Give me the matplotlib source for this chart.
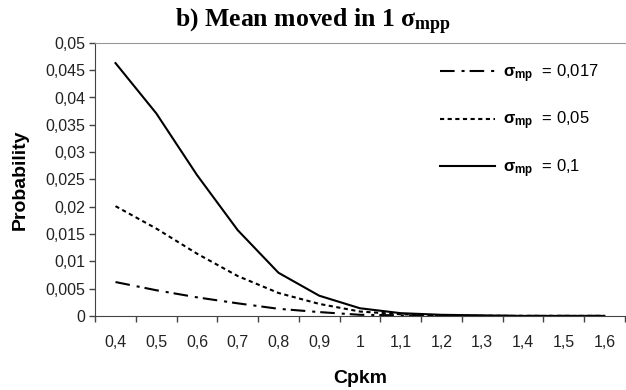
import matplotlib.pyplot as plt
import numpy as np

# valeurs
cpkm = ["0,4", "0,5", "0,6", "0,7", "0,8", "0,9", "1", "1,1", "1,2", "1,3", "1,4", "1,5", "1,6"]
p_017 = [0.0062, 0.0047, 0.0034, 0.0023, 0.0013, 0.0007, 0.0002, 0.0001, 0.0, 0.0, 0.0, 0.0, 0.0]
p_05 = [0.0201, 0.0160, 0.0114, 0.0073, 0.0042, 0.0022, 0.0008, 0.0003, 0.0001, 0.0, 0.0, 0.0, 0.0]
p_1 = [0.0463, 0.0371, 0.0258, 0.0157, 0.0079, 0.0037, 0.0014, 0.0005, 0.0002, 0.0001, 0.0, 0.0, 0.0]
y_ticks = np.arange(0, 0.0501, 0.005)

plt.rcParams['font.family'] = ['Liberation Sans', 'DejaVu Sans']
plt.rcParams['mathtext.fontset'] = 'custom'
plt.rcParams['mathtext.rm'] = 'Liberation Sans'
plt.rcParams['mathtext.bf'] = 'Liberation Sans:bold'
# astuce : \mathit sert pour le sigma en Times gras du titre
plt.rcParams['mathtext.it'] = 'Liberation Serif:bold'
plt.rcParams['lines.scale_dashes'] = False

fig = plt.figure(figsize=(6.26, 3.9), dpi=100)
ax = fig.add_axes([0.152, 0.19, 0.846, 0.70])

x = np.arange(len(cpkm))
ax.plot(x, p_017, color="black", lw=1.5, dashes=(10.5, 5, 2.2, 3.6), label=r"$\mathbf{\sigma_{mp}}$  = 0,017")
ax.plot(x, p_05, color="black", lw=1.5, dashes=(3, 2.5), label=r"$\mathbf{\sigma_{mp}}$  = 0,05")
ax.plot(x, p_1, color="black", lw=1.5, label=r"$\mathbf{\sigma_{mp}}$  = 0,1")

ax.set_xlim(-0.5, len(cpkm) - 0.5)
ax.set_ylim(0, 0.05)
ax.set_xticks(x)
ax.set_xticklabels(cpkm, fontsize=11.5, color="#222222")
ax.set_xticks(np.arange(-0.5, len(cpkm)), minor=True)
ax.tick_params(axis="x", which="major", length=0, pad=14)
ax.tick_params(axis="x", which="minor", length=4, width=1, direction="out", color="#444444")
ax.set_yticks(y_ticks)
ax.set_yticklabels([("%.3f" % v).rstrip("0").rstrip(".").replace(".", ",") for v in y_ticks],
                   fontsize=11.5, color="#222222")
ax.tick_params(axis="y", length=4, width=1, direction="out", pad=3, color="#444444")

ax.spines["right"].set_visible(False)
ax.spines["top"].set_color("#999999")
ax.spines["left"].set_color("#444444")
ax.spines["bottom"].set_color("#444444")

ax.set_xlabel("Cpkm", fontsize=14, fontweight="bold", labelpad=14)
ax.set_ylabel("Probability", fontsize=14, fontweight="bold", labelpad=12)
fig.text(0.5, 0.943, r"b) Mean moved in 1 $\mathit{\sigma_{mpp}}$", ha="center", va="center",
         fontsize=18.5, fontweight="bold", family="Liberation Serif")

ax.legend(loc="upper left", bbox_to_anchor=(440 / 626, 1 - 62 / 390), bbox_transform=fig.transFigure,
          frameon=False, fontsize=12, borderpad=0, borderaxespad=0,
          handlelength=3.3, labelspacing=1.5, handletextpad=0.5)

fig.savefig("out.png", dpi=100)
